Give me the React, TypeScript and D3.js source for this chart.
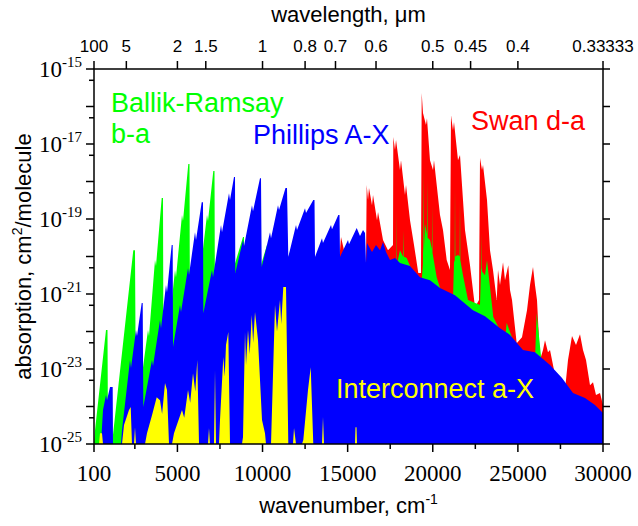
import React from 'react';
import * as d3 from 'd3';

// Each series: outline of the absorption envelope, [wavenumber (cm^-1), log10(absorption)]
const ballikRamsay: [number, number][] = [
  [100, -25], [159, -24.63], [805, -21.96], [893, -21.96], [922, -25], [1157, -25], [1245, -24.63],
  [2409, -19.83], [2508, -19.83], [2567, -24.36], [3272, -21.96], [3331, -22.12], [3683, -20.09], [3742, -20.25],
  [4077, -18.44], [4153, -18.44], [4183, -23.29], [4858, -20.36], [4917, -20.55], [5269, -18.89], [5328, -19.05],
  [5639, -17.53], [5710, -17.53], [5739, -22.49], [6327, -20.09], [6386, -20.25], [6738, -18.89], [6797, -19.05],
  [7108, -17.72], [7179, -17.72], [7208, -21.96],
  [8853, -19.48], [8911, -19.48], [8941, -21.69], [10263, -19.69], [10321, -19.69], [10351, -21.69],
  [11614, -19.88], [11673, -19.88], [11702, -21.96], [13023, -20.36], [13082, -22.23], [14551, -21.69],
  [17489, -21.16], [17782, -21.16], [17841, -20.36], [17870, -20.36], [17882, -18.76], [17900, -20.2],
  [18075, -19.83], [18250, -20.0], [18270, -19.3], [18290, -20.0], [18469, -20.04], [18763, -20.36],
  [19309, -20.89], [19420, -20.2], [19444, -17.69], [19470, -19.9], [19543, -19.13], [19660, -19.4],
  [19680, -17.95], [19700, -19.5], [19837, -19.56], [19950, -19.8], [19965, -18.63], [19985, -19.9],
  [20231, -20.55], [20425, -20.84], [21188, -21.16], [21247, -20.15], [21290, -20.1], [21306, -18.15],
  [21325, -20.0], [21482, -19.96], [21580, -20.0], [21600, -18.49], [21620, -20.1], [21776, -20.5],
  [22070, -21.16], [22775, -21.29], [22834, -20.36], [22860, -20.3], [22875, -19.37], [22895, -20.4],
  [23069, -20.5], [23186, -20.1], [23556, -21.61], [24244, -22.23], [24343, -21.77],
  [24713, -22.23], [25124, -22.63], [26005, -22.76], [26105, -21.51], [26399, -22.84], [26887, -23.16],
  [27650, -23.56], [27768, -23.48], [28062, -23.69], [28884, -23.91], [28943, -23.83], [29237, -24.09],
  [30000, -24.36], [30000, -25],
];

const phillips: [number, number][] = [
  [511, -25], [629, -24.09], [805, -23.69], [864, -23.83], [1040, -23.48], [1198, -23.48], [1216, -25],
  [1686, -25], [1745, -24.63], [2215, -22.76], [2273, -22.97], [2567, -21.96], [2626, -22.12],
  [2902, -21.24], [2961, -21.24], [2996, -24.01], [3507, -22.76], [3566, -22.92], [3977, -21.69], [4036, -21.91],
  [4329, -20.76], [4388, -20.95], [4664, -19.69], [4723, -19.69], [4741, -22.41],
  [5152, -21.29], [5211, -21.48], [5622, -20.31], [5681, -20.49], [6033, -19.35], [6092, -19.56],
  [6427, -18.55], [6503, -18.55], [6521, -21.51], [7032, -20.36], [7091, -20.55], [7561, -19.16], [7620, -19.35],
  [8030, -18.31], [8089, -18.49], [8324, -17.88], [8383, -17.88], [8400, -20.44],
  [8853, -19.56], [8911, -19.72], [9381, -18.63], [9440, -18.79], [9851, -17.91], [9910, -17.91], [9951, -20.28],
  [10439, -19.35], [10498, -19.51], [10909, -18.63], [10968, -18.76], [11349, -18.17], [11437, -18.17], [11514, -20.01],
  [11966, -19.16], [12025, -19.29], [12495, -18.71], [12554, -18.84], [12982, -18.49], [13053, -18.49], [13082, -20.01],
  [13493, -19.51], [13552, -19.64], [14022, -19.16], [14081, -19.27], [14451, -18.89], [14521, -18.89], [14551, -20.01],
  [15021, -19.56], [15080, -19.67], [15532, -19.24], [15726, -19.45], [15902, -19.29], [16020, -19.37], [16078, -20.17],
  [16137, -19.64], [16431, -19.88], [16666, -19.69], [16901, -19.83], [17077, -19.61], [17254, -19.88],
  [17489, -20.09], [17782, -20.04], [18075, -20.17], [18663, -20.25], [19250, -20.55], [19837, -20.63],
  [20425, -20.84], [21306, -21.03], [22363, -21.43], [23069, -21.59], [23950, -21.91], [24537, -22.09],
  [25300, -22.49], [26005, -22.55], [26887, -22.89], [27592, -23.24], [28238, -23.64], [28943, -23.77],
  [29530, -23.96], [30000, -24.17], [30000, -25],
];

const swan: [number, number][] = [
  [14492, -25], [14521, -20.04], [14610, -19.48], [14786, -19.83], [14903, -20.15], [16078, -20.15],
  [16119, -18.09], [16196, -18.49], [16254, -18.17], [16431, -18.63], [16490, -18.36], [16725, -19.03],
  [16784, -18.81], [17077, -19.56], [17371, -19.83], [17665, -19.69],
  [17682, -16.81], [17782, -17.16], [17841, -16.89], [18075, -17.69], [18134, -17.43], [18369, -18.36],
  [18428, -18.09], [18663, -19.03], [18898, -19.69], [19150, -20.44], [19309, -20.44],
  [19350, -15.64], [19426, -16.17], [19602, -16.49], [19660, -16.31], [19837, -17.43], [20014, -17.69],
  [20072, -17.43], [20425, -18.89], [20601, -19.29], [20818, -20.09], [21012, -20.36],
  [21071, -16.23], [21188, -16.63], [21247, -16.41], [21482, -17.43], [21600, -17.29], [21893, -19.29],
  [22187, -20.23], [22481, -21.35], [22716, -21.16],
  [22775, -17.37], [22893, -17.69], [22952, -17.56], [23186, -18.49], [23362, -19.83], [23538, -20.36],
  [23756, -21.16], [23833, -20.36], [23950, -20.76], [24127, -20.15], [24244, -20.63], [24437, -20.23],
  [24537, -20.89], [24655, -21.16], [24930, -22.31], [25242, -22.15], [25536, -21.43], [25712, -20.76],
  [25888, -20.28], [26005, -20.76], [26123, -21.16], [26299, -22.76], [26475, -22.49], [26593, -22.23],
  [26769, -22.55], [26887, -22.49], [27180, -23.16], [27474, -23.29], [27768, -23.56], [27944, -22.76],
  [28179, -22.12], [28414, -22.36], [28649, -22.07], [28825, -22.49], [29002, -22.76], [29237, -23.43],
  [29413, -23.35], [29589, -23.69], [29824, -23.64], [30000, -23.96], [30000, -25],
];

const intercombination: [number, number][] = [
  [394, -25], [452, -24.71], [570, -24.71], [629, -25],
  [1745, -25], [1862, -24.49], [2156, -24.09], [2256, -24.01], [2332, -25],
  [2450, -25], [2508, -24.55], [2567, -25],
  [3096, -25], [3213, -24.71], [3507, -24.23], [3783, -23.75], [3977, -23.83], [4100, -24.2], [4271, -23.37], [4388, -23.56], [4506, -25],
  [4682, -25], [4799, -24.71], [5269, -24.09], [5400, -24.3], [5622, -23.56], [5750, -23.9], [5916, -23.11], [6050, -23.6], [6168, -22.76], [6268, -25],
  [6797, -25], [6855, -24.57], [6914, -25],
  [7149, -25], [7208, -23.03], [7267, -25],
  [7443, -25], [7502, -24.36], [7696, -22.68], [7780, -23.2], [7854, -22.36], [7989, -22.01], [8089, -25],
  [8794, -25], [8853, -24.81], [8970, -22.01], [9030, -22.9], [9146, -21.96], [9250, -22.6], [9364, -21.56],
  [9450, -22.3], [9558, -21.48], [9734, -22.23], [9969, -24.36], [10145, -24.71], [10204, -25],
  [10498, -25], [10733, -21.29], [10850, -22.0], [11026, -21.16], [11100, -21.8], [11220, -20.81], [11379, -20.81], [11514, -25],
  [11790, -25], [11849, -24.57], [11966, -25],
  [12318, -25], [12395, -24.89], [12671, -23.56], [12830, -22.95], [12982, -25],
  [13493, -25], [13552, -24.28], [13611, -25],
  [15432, -25], [15461, -24.55], [15520, -24.55], [15550, -25],
];

const bottomTicks = [100, 5000, 10000, 15000, 20000, 25000, 30000];
const bottomMinor = [2500, 7500, 12500, 17500, 22500, 27500];
const topTicks = ['100', '5', '2', '1.5', '1', '0.8', '0.7', '0.6', '0.5', '0.45', '0.4', '0.33333'];
const leftLabelExp = [-15, -17, -19, -21, -23, -25];

const W = 638, H = 526;
const L = 94, R = 603, T = 69, B = 444;

export default function App() {
  const x = d3.scaleLinear().domain([100, 30000]).range([L, R]);
  const y = d3.scaleLog().domain([1e-25, 1e-15]).range([B, T]);
  const area = d3.area<[number, number]>()
    .x(d => x(d[0]))
    .y0(B)
    .y1(d => y(Math.pow(10, d[1])));

  const allExp = d3.range(-25, -14);
  const fiveExp = d3.range(-25, -15).map(e => Math.log10(5) + e);
  const sans = 'Liberation Sans, Arial, sans-serif';
  const serif = 'Liberation Serif, Times New Roman, serif';

  return (
    <svg width={W} height={H} style={{ position: 'absolute', left: 0, top: 0, background: '#fff' }}>
      <defs>
        <clipPath id="plot"><rect x={L} y={T} width={R - L} height={B - T} /></clipPath>
      </defs>
      <rect x={0} y={0} width={W} height={H} fill="#fff" />
      <g clipPath="url(#plot)">
        <path d={area(swan) || ''} fill="#ff0000" />
        <path d={area(ballikRamsay) || ''} fill="#00ff00" />
        <path d={area(phillips) || ''} fill="#0000ff" />
        <path d={area(intercombination) || ''} fill="#ffff00" />
      </g>
      <rect x={L} y={T} width={R - L} height={B - T} fill="none" stroke="#000" strokeWidth={1.5} />
      {bottomTicks.map(t => (
        <g key={'b' + t}>
          <line x1={x(t)} x2={x(t)} y1={B} y2={B + 8} stroke="#000" strokeWidth={1.5} />
          <text x={x(t)} y={481} textAnchor="middle" fontFamily={serif} fontSize={23}>{t}</text>
        </g>
      ))}
      {bottomMinor.map(t => (
        <line key={'bm' + t} x1={x(t)} x2={x(t)} y1={B} y2={B + 5} stroke="#000" strokeWidth={1.5} />
      ))}
      {topTicks.map(t => {
        const xx = x(1e4 / parseFloat(t));
        return (
          <g key={'t' + t}>
            <line x1={xx} x2={xx} y1={T} y2={T - 8} stroke="#000" strokeWidth={1.5} />
            <text x={xx} y={52} textAnchor="middle" fontFamily={sans} fontSize={17}>{t}</text>
          </g>
        );
      })}
      {allExp.map(e => (
        <line key={'l' + e} x1={L} x2={L - 8} y1={y(Math.pow(10, e))} y2={y(Math.pow(10, e))} stroke="#000" strokeWidth={1.5} />
      ))}
      {fiveExp.map(e => (
        <line key={'l5' + e} x1={L} x2={L - 5} y1={y(Math.pow(10, e))} y2={y(Math.pow(10, e))} stroke="#000" strokeWidth={1.5} />
      ))}
      {allExp.map(e => (
        <line key={'r' + e} x1={R} x2={R + 7} y1={y(Math.pow(10, e))} y2={y(Math.pow(10, e))} stroke="#000" strokeWidth={1.5} />
      ))}
      {leftLabelExp.map(e => (
        <text key={'ll' + e} x={82} y={y(Math.pow(10, e)) + 8} textAnchor="end" fontFamily={serif} fontSize={23}>
          10<tspan dy={-10} fontSize={15}>{e}</tspan>
        </text>
      ))}
      <text x={(L + R) / 2} y={22} textAnchor="middle" fontFamily={sans} fontSize={22}>wavelength, μm</text>
      <text x={(L + R) / 2} y={513} textAnchor="middle" fontFamily={sans} fontSize={22}>
        wavenumber, cm<tspan dy={-9} fontSize={14}>-1</tspan>
      </text>
      <text transform={`translate(31,${(T + B) / 2}) rotate(-90)`} textAnchor="middle" fontFamily={sans} fontSize={22}>
        absorption, cm<tspan dy={-9} fontSize={14}>2</tspan><tspan dy={9}>/molecule</tspan>
      </text>
      <text x={111} y={112} fontFamily={sans} fontSize={27} fill="#00ff00">Ballik-Ramsay</text>
      <text x={111} y={143} fontFamily={sans} fontSize={27} fill="#00ff00">b-a</text>
      <text x={253} y={144} fontFamily={sans} fontSize={27} fill="#0000ff">Phillips A-X</text>
      <text x={471} y={130} fontFamily={sans} fontSize={27} fill="#ff0000">Swan d-a</text>
      <text x={336} y={398} fontFamily={sans} fontSize={27} fill="#ffff00">Interconnect a-X</text>
    </svg>
  );
}
